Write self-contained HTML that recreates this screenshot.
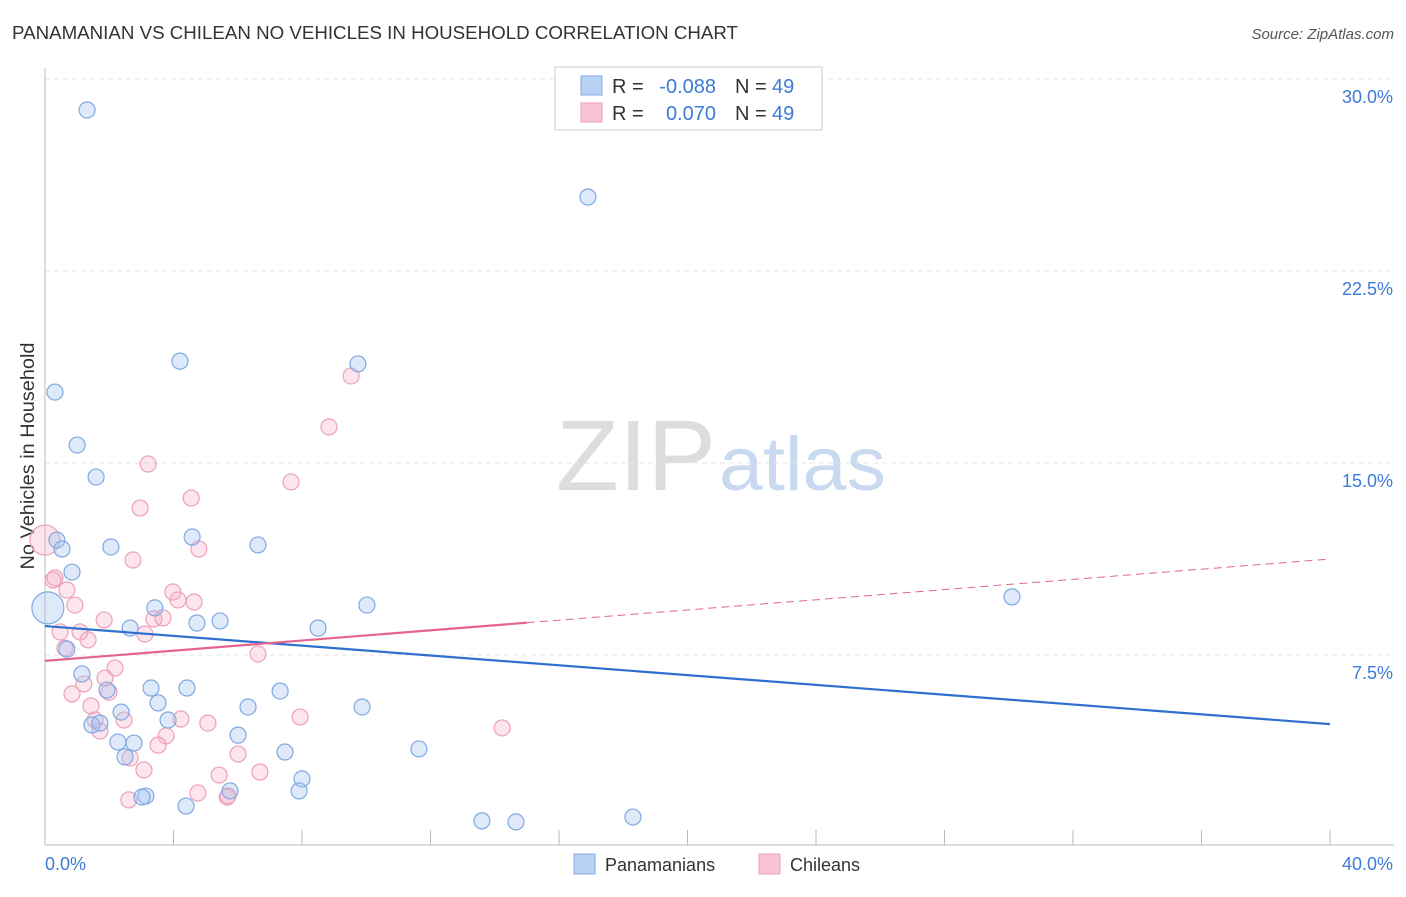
<!DOCTYPE html>
<html><head><meta charset="utf-8">
<style>
body{margin:0;background:#fff;font-family:"Liberation Sans",sans-serif;}
svg text{font-family:"Liberation Sans",sans-serif;}
</style></head>
<body>
<svg id="chart" width="1406" height="892" xmlns="http://www.w3.org/2000/svg">
<text x="12" y="39" font-size="18" fill="#333" textLength="726" lengthAdjust="spacingAndGlyphs">PANAMANIAN VS CHILEAN NO VEHICLES IN HOUSEHOLD CORRELATION CHART</text>
<text x="1394" y="39" font-size="15" fill="#555" text-anchor="end" font-style="italic">Source: ZipAtlas.com</text>
<text transform="translate(34,456) rotate(-90)" font-size="19" fill="#333" text-anchor="middle" textLength="227" lengthAdjust="spacingAndGlyphs">No Vehicles in Household</text>
<text x="716" y="490" font-size="100" text-anchor="end" fill="#ddd" font-family="Liberation Serif" textLength="160" lengthAdjust="spacingAndGlyphs">ZIP</text>
<text x="719" y="490" font-size="76" fill="#c8d9f0" textLength="167" lengthAdjust="spacingAndGlyphs">atlas</text>
<g id="grid"></g><g id="pts"></g><g id="trend"></g>
<g>
<rect x="555" y="67" width="267" height="63" fill="#fff" stroke="#ccc"/>
<rect x="581" y="76" width="21" height="19" fill="#b8d2f4" stroke="#7fa8e0"/>
<rect x="581" y="103" width="21" height="19" fill="#f9c4d4" stroke="#eea0b8"/>
<text x="612" y="93" font-size="20" fill="#333">R =</text>
<text x="716" y="93" font-size="20" fill="#3d7bd6" text-anchor="end">-0.088</text>
<text x="735" y="93" font-size="20" fill="#333">N =</text>
<text x="772" y="93" font-size="20" fill="#3d7bd6">49</text>
<text x="612" y="120" font-size="20" fill="#333">R =</text>
<text x="716" y="120" font-size="20" fill="#3d7bd6" text-anchor="end">0.070</text>
<text x="735" y="120" font-size="20" fill="#333">N =</text>
<text x="772" y="120" font-size="20" fill="#3d7bd6">49</text>
</g>
<g>
<rect x="574" y="854" width="21" height="20" fill="#b8d2f4" stroke="#7fa8e0"/>
<text x="605" y="871" font-size="18" fill="#333">Panamanians</text>
<rect x="759" y="854" width="21" height="20" fill="#f9c4d4" stroke="#eea0b8"/>
<text x="790" y="871" font-size="18" fill="#333">Chileans</text>
</g>
</svg>
<script>
const blueX=[1.31,16.90,0.31,4.20,9.74,1.00,1.59,0.37,0.53,2.05,4.58,6.63,0.84,0.09,3.42,10.02,30.10,2.65,4.73,5.45,8.50,0.68,1.15,3.30,4.42,7.32,1.93,3.52,6.32,9.87,2.37,3.83,1.46,1.71,2.27,2.77,2.49,6.01,7.47,11.64,8.00,7.91,5.76,3.14,3.02,4.39,13.60,14.66,18.30];
const blueY=[28.79,25.39,17.77,18.98,18.87,15.70,14.45,11.99,11.64,11.72,12.11,11.80,10.74,9.34,9.34,9.45,9.77,8.55,8.75,8.83,8.55,7.73,6.76,6.21,6.21,6.09,6.13,5.63,5.47,5.47,5.27,4.96,4.77,4.84,4.10,4.06,3.52,4.37,3.71,3.83,2.66,2.19,2.19,1.99,1.95,1.60,1.02,0.98,1.17];
const pinkX=[0.0,0.31,0.25,0.68,0.93,0.47,1.09,1.34,0.62,1.84,3.21,2.96,4.55,7.66,8.84,9.53,2.74,4.79,3.98,4.14,4.64,3.39,3.67,3.11,6.63,2.18,1.87,1.21,1.99,0.84,1.43,2.46,4.23,5.07,1.56,1.71,7.94,14.23,3.77,3.52,6.01,2.65,3.08,5.42,6.69,4.76,5.67,2.61,5.70];
const pinkY=[11.99,10.51,10.43,10.04,9.45,8.40,8.40,8.09,7.77,8.87,14.96,13.24,13.63,14.26,16.41,18.40,11.21,11.64,9.96,9.65,9.57,8.91,8.95,8.32,7.54,6.99,6.60,6.37,6.05,5.98,5.51,4.96,5.00,4.84,4.96,4.53,5.08,4.65,4.34,3.98,3.63,3.48,3.01,2.81,2.93,2.11,1.95,1.84,2.00];
const blueBig=[13];const pinkBig=[0];
const blueTrend=[8.63,4.80];
const pinkTrend=[7.27,11.25];
const pinkSolidEnd=15.0;
const yTicks=[7.5,15,22.5,30];
const yTickLabels=["7.5%","15.0%","22.5%","30.0%"];
const xTicks=[0,4,8,12,16,20,24,28,32,36,40];

const NS="http://www.w3.org/2000/svg";
const X=v=>45+v/40*1285, Y=v=>847-v/7.5*192;
function mk(tag,attrs,parent){const e=document.createElementNS(NS,tag);for(const k in attrs)e.setAttribute(k,attrs[k]);parent.appendChild(e);return e;}
const grid=document.getElementById('grid'),pts=document.getElementById('pts'),tr=document.getElementById('trend');
yTicks.forEach((t,i)=>{
 const l=mk('line',{x1:45,x2:1394,y1:Y(t),y2:Y(t),stroke:'#e4e4e4','stroke-dasharray':'5,4'},grid);
 
 
 const tx=mk('text',{x:1393,y:Y(t)+24,'font-size':18,fill:'#3d7bd6','text-anchor':'end'},grid);tx.textContent=yTickLabels[i];
 
 
});
const ax=mk('line',{x1:45,x2:1394,y1:845,y2:845,stroke:'#bbb'},grid);


const ay=mk('line',{x1:45,x2:45,y1:68,y2:845,stroke:'#bbb'},grid);


xTicks.forEach(t=>{const l=mk('line',{x1:X(t),x2:X(t),y1:830,y2:845,stroke:'#bbb'},grid);
 
 });
let t0=mk('text',{x:45,y:870,'font-size':18,fill:'#3d7bd6'},grid);t0.textContent='0.0%';


let t1=mk('text',{x:1393,y:870,'font-size':18,fill:'#3d7bd6','text-anchor':'end'},grid);t1.textContent='40.0%';


function drawPts(xs,ys,big,bigR,fill,stroke,name){xs.forEach((x,i)=>{
 const c=mk('circle',{cx:X(x),cy:Y(ys[i]),r:big.includes(i)?bigR:8,fill:fill,stroke:stroke,'stroke-width':1.2},pts);
 
 });}
drawPts(pinkX,pinkY,pinkBig,15,'rgba(245,170,195,0.3)','#eea0b8','chilean-point');
drawPts(blueX,blueY,blueBig,16,'rgba(160,196,240,0.35)','#7fa8e0','panamanian-point');
const bl=mk('line',{x1:X(0),y1:Y(blueTrend[0]),x2:X(40),y2:Y(blueTrend[1]),stroke:'#2f6fd0','stroke-width':2.2},tr);


const pm=pinkTrend[0]+(pinkTrend[1]-pinkTrend[0])*pinkSolidEnd/40;
const pl=mk('line',{x1:X(0),y1:Y(pinkTrend[0]),x2:X(pinkSolidEnd),y2:Y(pm),stroke:'#e4648f','stroke-width':2.2},tr);


const pd=mk('line',{x1:X(pinkSolidEnd),y1:Y(pm),x2:X(40),y2:Y(pinkTrend[1]),stroke:'#e4648f','stroke-width':1,'stroke-dasharray':'8,5'},tr);


</script>
</body></html>
